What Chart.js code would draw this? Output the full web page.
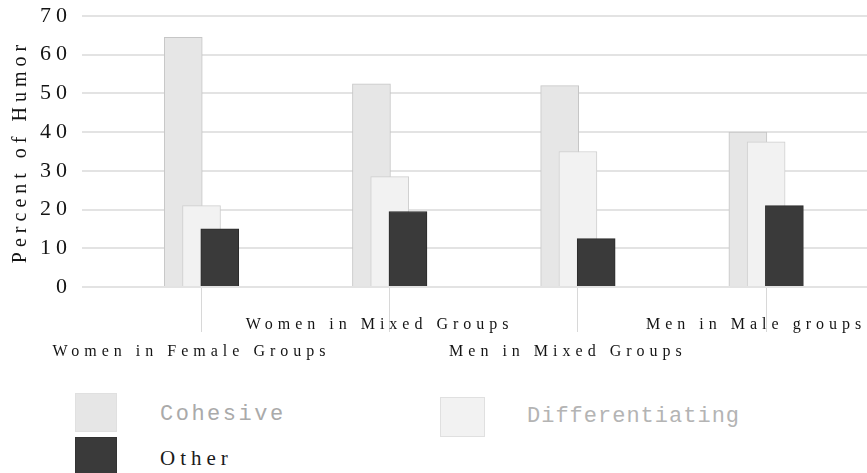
<!DOCTYPE html>
<html>
<head>
<meta charset="utf-8">
<script src="https://cdn.jsdelivr.net/npm/chart.js@4.4.1/dist/chart.umd.min.js"></script>
<style>
  html, body { margin: 0; padding: 0; background: #ffffff; }
  #wrap { position: relative; width: 867px; height: 473px; overflow: hidden; }
  #chart { position: absolute; left: 0; top: 0; }
  #legend { position: absolute; left: 75px; top: 393px; display: grid;
            grid-template-columns: 365px auto; grid-auto-rows: 44px; }
  .item { display: flex; align-items: flex-start; }
  .swatch { box-sizing: border-box; flex: none; }
  .text { white-space: nowrap; }
</style>
</head>
<body>
<div id="wrap">
  <canvas id="chart" width="867" height="385"></canvas>
  <div id="legend"></div>
</div>
<script>
// Share of humor by type, per speaker group (percent)
const categories = ['Women in Female Groups', 'Women in Mixed Groups', 'Men in Mixed Groups', 'Men in Male groups'];
const cohesive = [64.5, 52.5, 52, 40];
const differentiating = [21, 28.5, 35, 37.5];
const other = [15, 19.5, 12.5, 21];
const seriesNames = ['Cohesive', 'Differentiating', 'Other'];
const yTickValues = [0, 10, 20, 30, 40, 50, 60, 70];

// Legend text look, one entry per series
const legendText = [
  { font: '22px "Liberation Mono"', color: '#aaaaaa', spacing: '2.5px', pad: 9, swatch: { w: 42, h: 39, top: 0, gap: 43 } },
  { font: '22px "Liberation Mono"', color: '#b4b4b4', spacing: '1px', pad: 11, swatch: { w: 45, h: 40, top: 4, gap: 42 } },
  { font: '21px "Liberation Serif"', color: '#1a1a1a', spacing: '5px', pad: 9, swatch: { w: 42, h: 38, top: 0, gap: 43 } }
];

// The three bars of a group overlap by half a bar; each series gets its own
// hidden x scale shifted by a fraction of a category.
const X_MIN = -0.635, X_MAX = 3.536, SHIFT = 0.097;

const spacing = {
  id: 'spacing',
  beforeUpdate(chart) { chart.ctx.letterSpacing = '5px'; },
  beforeLayout(chart) { chart.ctx.letterSpacing = '5px'; },
  beforeDraw(chart) { chart.ctx.letterSpacing = '5px'; }
};

const htmlLegend = {
  id: 'htmlLegend',
  afterUpdate(chart) {
    const host = document.getElementById('legend');
    host.innerHTML = '';
    chart.data.datasets.forEach((ds, i) => {
      const st = legendText[i];
      const item = document.createElement('div');
      item.className = 'item';
      const sw = document.createElement('div');
      sw.className = 'swatch';
      sw.style.background = ds.backgroundColor;
      sw.style.width = st.swatch.w + 'px';
      sw.style.height = st.swatch.h + 'px';
      sw.style.marginTop = st.swatch.top + 'px';
      sw.style.marginRight = st.swatch.gap + 'px';
      sw.style.border = '1px solid ' + (i === 2 ? '#333333' : '#e0e0e0');
      const tx = document.createElement('div');
      tx.className = 'text';
      tx.textContent = ds.label;
      tx.style.font = st.font;
      tx.style.color = st.color;
      tx.style.letterSpacing = st.spacing;
      tx.style.paddingTop = st.pad + 'px';
      item.appendChild(sw);
      item.appendChild(tx);
      host.appendChild(item);
    });
  }
};

const serif = 'Liberation Serif';
const hiddenX = shift => ({ type: 'linear', display: false, offset: false,
  grid: { offset: false }, min: X_MIN + shift, max: X_MAX + shift });

new Chart(document.getElementById('chart'), {
  type: 'bar',
  data: {
    labels: categories.map((_, i) => i),
    datasets: [
      { label: seriesNames[0], data: cohesive, xAxisID: 'xCoh', order: 3,
        backgroundColor: '#e6e6e6', borderColor: '#c6c6c6', borderWidth: 1 },
      { label: seriesNames[1], data: differentiating, xAxisID: 'x', order: 2,
        backgroundColor: '#f2f2f2', borderColor: '#cfcfcf', borderWidth: 1 },
      { label: seriesNames[2], data: other, xAxisID: 'xOth', order: 1,
        backgroundColor: '#3a3a3a', borderColor: '#2c2c2c', borderWidth: 1 }
    ]
  },
  options: {
    responsive: false,
    animation: false,
    grouped: false,
    barThickness: 38,
    layout: { padding: { top: 16, bottom: 0, left: 0, right: 0 } },
    plugins: { legend: { display: false }, tooltip: { enabled: false } },
    scales: {
      x: {
        type: 'linear', position: 'bottom', min: X_MIN, max: X_MAX, offset: false,
        grid: { offset: false, drawOnChartArea: false, drawTicks: true, tickLength: 45, color: '#d8d8d8', lineWidth: 1 },
        border: { display: false },
        afterBuildTicks: s => { s.ticks = categories.map((_, i) => ({ value: i })); },
        afterFit: s => { s.paddingLeft = 0; s.paddingRight = 0; s.height = 98; },
        ticks: {
          autoSkip: false, maxRotation: 0, minRotation: 0,
          labelOffset: -10, padding: -20.5, color: '#141414',
          font: { family: serif, size: 16, lineHeight: 1.6875 },
          callback: (v, i) => (i % 2 === 0 ? ['', categories[i]] : categories[i])
        }
      },
      xCoh: hiddenX(SHIFT),
      xOth: hiddenX(-SHIFT),
      y: {
        min: 0, max: 70,
        afterBuildTicks: s => { s.ticks = yTickValues.map(v => ({ value: v })); },
        afterFit: s => { s.width = 82; s.paddingTop = 0; s.paddingBottom = 0; },
        grid: { color: '#e3e3e3', lineWidth: 2, drawTicks: false },
        border: { display: false },
        ticks: { padding: 10, color: '#141414', font: { family: serif, size: 22 } },
        title: { display: true, text: 'Percent of Humor', color: '#141414',
                 font: { family: serif, size: 20 }, padding: { top: 9, bottom: 0 } }
      }
    }
  },
  plugins: [spacing, htmlLegend]
});
</script>
</body>
</html>
